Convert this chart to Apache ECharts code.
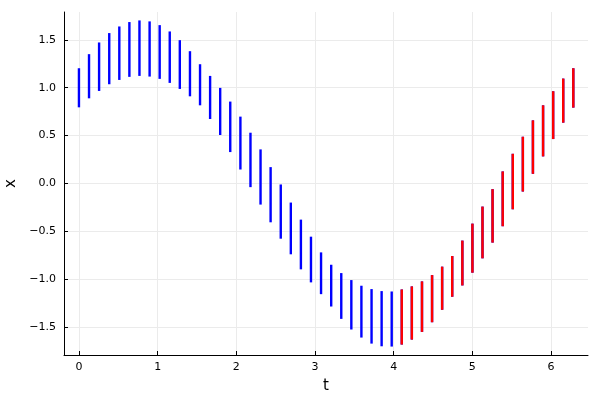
<!DOCTYPE html>
<html>
<head>
<meta charset="utf-8">
<script src="https://cdn.jsdelivr.net/npm/echarts@6/dist/echarts.min.js"></script>
<style>html,body{margin:0;padding:0;background:#fff}#c{width:600px;height:400px}</style>
</head>
<body>
<div id="c"></div>
<script>
// t values (x positions of each bar)
const tValues = [0,0.128,0.256,0.385,0.513,0.641,0.769,0.898,1.026,1.154,1.282,1.411,1.539,1.667,1.795,1.923,2.052,2.180,2.308,2.436,2.565,2.693,2.821,2.949,3.077,3.206,3.334,3.462,3.590,3.719,3.847,3.975,4.103,4.231,4.360,4.488,4.616,4.744,4.873,5.001,5.129,5.257,5.386,5.514,5.642,5.770,5.899,6.027,6.155,6.283];
// upper ends of bars
const upperValues = [1.203,1.350,1.472,1.570,1.639,1.685,1.702,1.692,1.653,1.587,1.496,1.381,1.245,1.123,0.998,0.855,0.698,0.530,0.356,0.171,-0.010,-0.199,-0.377,-0.555,-0.719,-0.848,-0.935,-1.008,-1.067,-1.102,-1.123,-1.127,-1.106,-1.074,-1.022,-0.956,-0.868,-0.757,-0.596,-0.419,-0.241,-0.059,0.126,0.310,0.488,0.659,0.816,0.963,1.095,1.203];
// lower ends of bars
const lowerValues = [0.795,0.889,0.966,1.036,1.081,1.113,1.123,1.116,1.092,1.050,0.987,0.910,0.816,0.673,0.506,0.328,0.146,-0.038,-0.220,-0.405,-0.576,-0.739,-0.896,-1.032,-1.155,-1.284,-1.413,-1.524,-1.608,-1.671,-1.699,-1.702,-1.681,-1.629,-1.549,-1.448,-1.318,-1.182,-1.064,-0.931,-0.781,-0.617,-0.446,-0.269,-0.084,0.101,0.283,0.464,0.635,0.792];
// index where the red segment starts
const redStart = 32;
const xTicks = [0,1,2,3,4,5,6];
const yTicks = [-1.5,-1,-0.5,0,0.5,1,1.5];

const blueData = tValues.map((t,i)=>[t, lowerValues[i], upperValues[i]]);
const redData = tValues.slice(redStart).map((t,i)=>[t, lowerValues[i+redStart], upperValues[i+redStart]]);

function barRenderer(color){
  return function(params, api){
    const p1 = api.coord([api.value(0), api.value(1)]);
    const p2 = api.coord([api.value(0), api.value(2)]);
    return {type:'line', shape:{x1:p1[0],y1:p1[1],x2:p2[0],y2:p2[1]},
      style:{stroke:color, lineWidth:2.4, lineCap:'butt'}};
  };
}
const fmt = v => v.toFixed(1).replace('-', '\u2212');

const chart = echarts.init(document.getElementById('c'), null, {renderer:'canvas'});
const font = 'DejaVu Sans';
chart.setOption({
  animation:false,
  backgroundColor:'#fff',
  grid:{left:64, right:12, top:12, bottom:45, containLabel:false, outerBoundsMode:'none'},
  xAxis:{
    type:'value', min:-0.19, max:6.47,
    name:'t', nameLocation:'middle', nameGap:24,
    nameTextStyle:{fontFamily:font, fontSize:15, color:'#000'},
    axisLine:{show:true, onZero:false, lineStyle:{color:'#000', width:1}},
    axisTick:{show:true, inside:true, length:4, customValues:xTicks, lineStyle:{color:'#000'}},
    axisLabel:{customValues:xTicks, fontFamily:font, fontSize:11, color:'#000', margin:7, formatter:v=>String(v)},
    splitLine:{show:true, lineStyle:{color:'#ebebeb', width:1}}
  },
  yAxis:{
    type:'value', min:-1.79, max:1.79,
    name:'x', nameLocation:'middle', nameGap:45, nameRotate:90,
    nameTextStyle:{fontFamily:font, fontSize:15, color:'#000'},
    axisLine:{show:true, onZero:false, lineStyle:{color:'#000', width:1}},
    axisTick:{show:true, inside:true, length:4, customValues:yTicks, lineStyle:{color:'#000'}},
    axisLabel:{customValues:yTicks, fontFamily:font, fontSize:11, color:'#000', margin:8, formatter:v=>fmt(v)},
    splitLine:{show:true, lineStyle:{color:'#ebebeb', width:1}}
  },
  series:[
    {type:'custom', data:blueData, renderItem:barRenderer('#0000ff'), encode:{x:0, y:[1,2]}, clip:true},
    {type:'custom', data:redData, renderItem:barRenderer('#ff0000'), encode:{x:0, y:[1,2]}, clip:true}
  ]
});
</script>
</body>
</html>
